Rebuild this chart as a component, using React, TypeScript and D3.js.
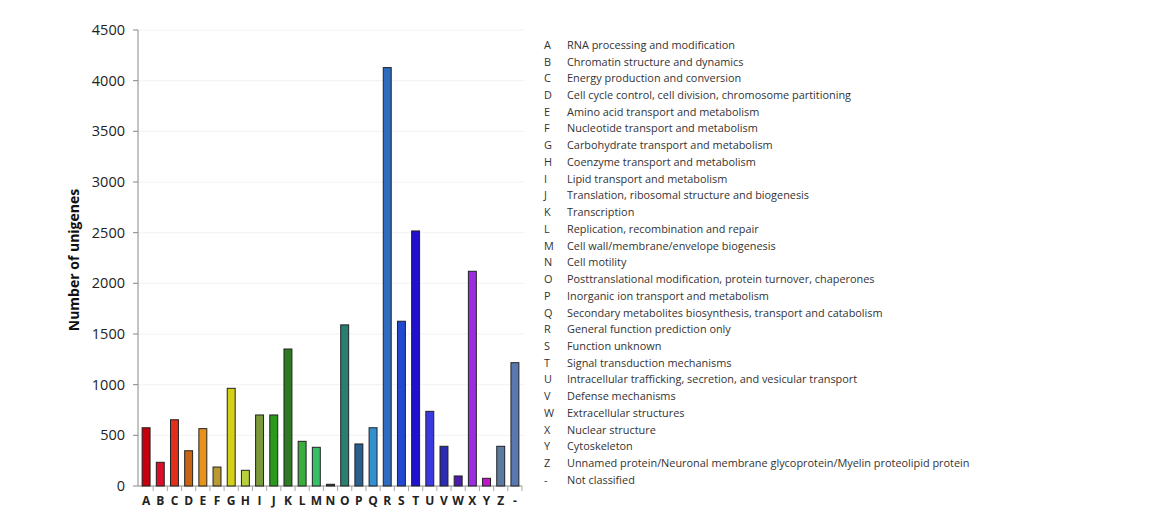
import React from "react";
import * as d3 from "d3";

const categories = ["A","B","C","D","E","F","G","H","I","J","K","L","M","N","O","P","Q","R","S","T","U","V","W","X","Y","Z","-"];
const values = [575,234,654,348,566,187,964,155,701,701,1352,441,382,17,1590,415,575,4129,1626,2517,737,392,99,2119,76,392,1217];
const barColors = ["#c4000e","#d8102a","#e0301c","#c86412","#e8921c","#b89a30","#d4d018","#b8d03c","#7a9a38","#2a9a1c","#2e7a22","#3cac3c","#38c068","#303030","#2a8070","#285e90","#3090d0","#2f6cc0","#2048d0","#2010d0","#3a38e0","#2c2cb0","#4a1ca8","#9c2ce0","#c018c8","#5a7aa0","#5a78b0"];
const yTicks = [0,500,1000,1500,2000,2500,3000,3500,4000,4500];
const legendLabels = [
  "RNA processing and modification",
  "Chromatin structure and dynamics",
  "Energy production and conversion",
  "Cell cycle control, cell division, chromosome partitioning",
  "Amino acid transport and metabolism",
  "Nucleotide transport and metabolism",
  "Carbohydrate transport and metabolism",
  "Coenzyme transport and metabolism",
  "Lipid transport and metabolism",
  "Translation, ribosomal structure and biogenesis",
  "Transcription",
  "Replication, recombination and repair",
  "Cell wall/membrane/envelope biogenesis",
  "Cell motility",
  "Posttranslational modification, protein turnover, chaperones",
  "Inorganic ion transport and metabolism",
  "Secondary metabolites biosynthesis, transport and catabolism",
  "General function prediction only",
  "Function unknown",
  "Signal transduction mechanisms",
  "Intracellular trafficking, secretion, and vesicular transport",
  "Defense mechanisms",
  "Extracellular structures",
  "Nuclear structure",
  "Cytoskeleton",
  "Unnamed protein/Neuronal membrane glycoprotein/Myelin proteolipid protein",
  "Not classified",
];

export default function App() {
  const W = 1172, H = 516;
  const x = d3.scaleBand<string>().domain(categories).range([139, 522]).paddingInner(0.44).paddingOuter(0.22);
  const xb = d3.scaleBand<string>().domain(categories).range([139, 522]);
  const y = d3.scaleLinear().domain([0, 4500]).range([486, 30]);
  const font = "'Open Sans', 'Noto Sans', sans-serif";
  const legendY = d3.scaleLinear().domain([0, 26]).range([45, 480]);
  return (
    <svg width={W} height={H} style={{ position: "absolute", left: 0, top: 0, background: "#fff" }} fontFamily={font}>
      {yTicks.map((t) => (
        <g key={t}>
          {t > 0 && <line x1={138} x2={525} y1={y(t)} y2={y(t)} stroke="#f2f2f2" strokeWidth={1} />}
          <line x1={133} x2={138} y1={y(t)} y2={y(t)} stroke="#888" strokeWidth={1} />
          <text x={125} y={y(t)} dy="0.35em" textAnchor="end" fontSize={14.5} fill="#222">{t}</text>
        </g>
      ))}
      <line x1={138} x2={138} y1={y(4500)} y2={y(0)} stroke="#888" strokeWidth={1} />
      <line x1={138} x2={522} y1={y(0)} y2={y(0)} stroke="#888" strokeWidth={1} />
      {categories.map((c) => (
        <line key={"t" + c} x1={(xb(c) as number) + xb.bandwidth()} x2={(xb(c) as number) + xb.bandwidth()} y1={486} y2={491} stroke="#aaa" strokeWidth={1} />
      ))}
      {categories.map((c, i) => (
        <rect key={c} x={x(c)} y={y(values[i])} width={x.bandwidth()} height={y(0) - y(values[i])}
          fill={barColors[i]} stroke="#222" strokeWidth={1} />
      ))}
      {categories.map((c) => (
        <text key={"l" + c} x={(xb(c) as number) + xb.bandwidth() / 2} y={505} textAnchor="middle" fontSize={12} fontWeight="bold" fill="#222">{c}</text>
      ))}
      <text transform={`translate(79,260) rotate(-90)`} textAnchor="middle" fontSize={14} fontWeight="bold" fill="#111">Number of unigenes</text>
      {categories.map((c, i) => (
        <g key={"lg" + c}>
          <text x={544} y={legendY(i)} dy="0.35em" fontSize={10.9} fill="#333">{c}</text>
          <text x={567} y={legendY(i)} dy="0.35em" fontSize={10.9} fill="#333">{legendLabels[i]}</text>
        </g>
      ))}
    </svg>
  );
}
